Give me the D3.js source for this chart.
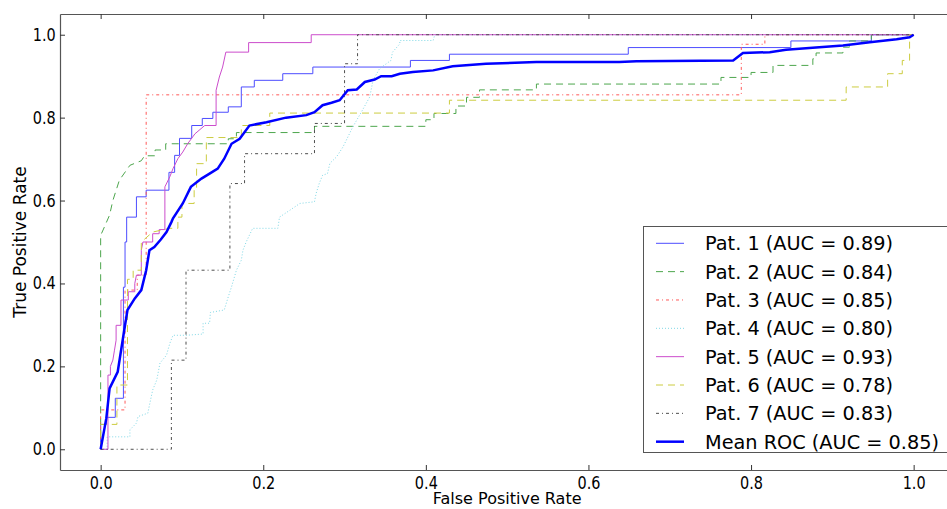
<!DOCTYPE html>
<html>
<head>
<meta charset="utf-8">
<script src="https://cdn.jsdelivr.net/npm/d3@7"></script>
<style>
  body { margin: 0; background: #fff; }
  svg { display: block; font-family: "DejaVu Sans", sans-serif; }
</style>
</head>
<body>
<div id="chart"></div>
<script>
// ROC curves per patient, [fpr, tpr]
var pat1 = [[0,0],[0,0.06],[0.007,0.06],[0.007,0.077],[0.018,0.077],[0.018,0.123],[0.028,0.123],[0.028,0.391],[0.030,0.391],[0.030,0.5],[0.032,0.5],[0.032,0.56],[0.044,0.56],[0.044,0.609],[0.056,0.609],[0.056,0.625],[0.084,0.625],[0.084,0.668],[0.091,0.668],[0.091,0.709],[0.097,0.709],[0.097,0.75],[0.112,0.75],[0.112,0.781],[0.125,0.781],[0.125,0.798],[0.138,0.798],[0.138,0.813],[0.157,0.813],[0.157,0.826],[0.173,0.826],[0.173,0.874],[0.189,0.874],[0.189,0.89],[0.224,0.89],[0.224,0.906],[0.261,0.906],[0.261,0.922],[0.381,0.922],[0.381,0.938],[0.429,0.938],[0.429,0.953],[0.649,0.953],[0.649,0.969],[0.849,0.969],[0.849,0.985],[0.948,0.985],[0.948,1],[1,1]]
var pat2 = [[0,0],[0,0.516],[0.003,0.529],[0.011,0.565],[0.015,0.6],[0.023,0.649],[0.036,0.685],[0.05,0.696],[0.054,0.708],[0.067,0.708],[0.067,0.722],[0.08,0.722],[0.08,0.737],[0.157,0.737],[0.157,0.749],[0.167,0.749],[0.167,0.764],[0.263,0.764],[0.263,0.779],[0.40,0.779],[0.40,0.795],[0.41,0.795],[0.41,0.81],[0.437,0.81],[0.437,0.828],[0.45,0.828],[0.45,0.849],[0.466,0.849],[0.466,0.867],[0.536,0.867],[0.536,0.881],[0.763,0.881],[0.763,0.897],[0.80,0.897],[0.80,0.909],[0.827,0.909],[0.827,0.926],[0.876,0.926],[0.876,0.942],[0.880,0.942],[0.880,0.956],[0.913,0.956],[0.913,0.970],[0.921,0.970],[0.921,0.985],[0.948,0.985],[0.948,1],[1,1]]
var pat3 = [[0,0],[0,0.095],[0.030,0.095],[0.030,0.384],[0.045,0.384],[0.045,0.42],[0.056,0.42],[0.056,0.855],[0.788,0.855],[0.788,0.977],[0.817,0.977],[0.817,1],[1,1]]
var pat4 = [[0,0],[0.008,0],[0.008,0.03],[0.036,0.03],[0.036,0.047],[0.044,0.063],[0.046,0.079],[0.058,0.087],[0.060,0.106],[0.064,0.143],[0.069,0.167],[0.073,0.208],[0.081,0.227],[0.085,0.255],[0.089,0.275],[0.105,0.275],[0.126,0.278],[0.126,0.304],[0.134,0.304],[0.135,0.33],[0.152,0.336],[0.157,0.368],[0.161,0.392],[0.167,0.432],[0.173,0.456],[0.175,0.48],[0.179,0.50],[0.187,0.533],[0.218,0.533],[0.220,0.56],[0.233,0.577],[0.245,0.593],[0.263,0.597],[0.265,0.617],[0.269,0.642],[0.273,0.661],[0.279,0.665],[0.282,0.69],[0.290,0.705],[0.298,0.729],[0.310,0.777],[0.322,0.818],[0.331,0.85],[0.335,0.89],[0.343,0.918],[0.357,0.938],[0.359,0.958],[0.368,0.978],[0.368,0.986],[0.409,0.986],[0.411,1],[1,1]]
var pat5 = [[0,0],[0.009,0],[0.009,0.179],[0.012,0.179],[0.012,0.2],[0.015,0.215],[0.017,0.239],[0.019,0.263],[0.019,0.299],[0.025,0.299],[0.025,0.36],[0.034,0.36],[0.034,0.38],[0.042,0.38],[0.042,0.40],[0.044,0.42],[0.050,0.42],[0.050,0.48],[0.052,0.50],[0.064,0.50],[0.064,0.52],[0.072,0.52],[0.072,0.53],[0.079,0.53],[0.079,0.633],[0.085,0.657],[0.089,0.677],[0.095,0.701],[0.101,0.717],[0.107,0.737],[0.116,0.761],[0.128,0.781],[0.142,0.781],[0.142,0.866],[0.146,0.898],[0.150,0.922],[0.154,0.958],[0.182,0.958],[0.182,0.981],[0.259,0.981],[0.259,1],[1,1]]
var pat6 = [[0,0],[0,0.06],[0.02,0.06],[0.02,0.155],[0.033,0.155],[0.033,0.41],[0.04,0.41],[0.04,0.432],[0.05,0.432],[0.05,0.50],[0.064,0.524],[0.085,0.533],[0.095,0.533],[0.095,0.56],[0.1,0.56],[0.1,0.593],[0.115,0.593],[0.115,0.629],[0.118,0.629],[0.118,0.689],[0.130,0.689],[0.130,0.752],[0.173,0.752],[0.173,0.781],[0.208,0.781],[0.208,0.811],[0.429,0.811],[0.429,0.842],[0.917,0.842],[0.917,0.874],[0.968,0.874],[0.968,0.906],[0.986,0.906],[0.986,0.938],[0.995,0.938],[0.995,1],[1,1]]
var pat7 = [[0,0],[0.087,0],[0.087,0.215],[0.105,0.215],[0.105,0.432],[0.159,0.432],[0.159,0.641],[0.177,0.641],[0.177,0.713],[0.263,0.713],[0.263,0.786],[0.300,0.786],[0.300,0.930],[0.316,0.930],[0.316,1],[1,1]]
var meanRoc = [[0,0],[0.007,0.075],[0.011,0.147],[0.021,0.187],[0.029,0.287],[0.033,0.336],[0.042,0.364],[0.050,0.384],[0.056,0.432],[0.060,0.48],[0.066,0.488],[0.074,0.506],[0.081,0.524],[0.087,0.548],[0.089,0.557],[0.101,0.593],[0.111,0.633],[0.124,0.653],[0.134,0.665],[0.144,0.677],[0.152,0.701],[0.161,0.737],[0.171,0.749],[0.183,0.781],[0.204,0.789],[0.228,0.80],[0.253,0.806],[0.263,0.813],[0.273,0.83],[0.284,0.836],[0.294,0.842],[0.304,0.866],[0.315,0.868],[0.325,0.886],[0.337,0.892],[0.345,0.90],[0.358,0.90],[0.368,0.906],[0.384,0.91],[0.409,0.914],[0.433,0.924],[0.474,0.93],[0.536,0.934],[0.638,0.934],[0.659,0.936],[0.778,0.938],[0.790,0.956],[0.823,0.958],[0.843,0.964],[0.884,0.97],[0.913,0.974],[0.946,0.982],[0.979,0.989],[0.995,0.994],[1,1]]

var labels = ["Pat. 1 (AUC = 0.89)","Pat. 2 (AUC = 0.84)","Pat. 3 (AUC = 0.85)","Pat. 4 (AUC = 0.80)","Pat. 5 (AUC = 0.93)","Pat. 6 (AUC = 0.78)","Pat. 7 (AUC = 0.83)","Mean ROC (AUC = 0.85)"]
var ticks = [0, 0.2, 0.4, 0.6, 0.8, 1.0]

var series = [
  {data: pat1, color: "#4d4dff", width: 1, dash: null},
  {data: pat2, color: "#4da64d", width: 1, dash: "7,5"},
  {data: pat3, color: "#ff5a5a", width: 1, dash: "3,3,1,3"},
  {data: pat4, color: "#80d8e6", width: 1, dash: "1,2"},
  {data: pat5, color: "#cc4dcc", width: 1, dash: null},
  {data: pat6, color: "#cccc40", width: 1, dash: "7,5"},
  {data: pat7, color: "#4d4d4d", width: 1, dash: "3,3,1,3"},
  {data: meanRoc, color: "#0000ff", width: 2.5, dash: null}
]

var width = 947, height = 509
var margin = {left: 60, top: 14, bottom: 39}
var plotH = height - margin.top - margin.bottom
var pxPerUnit = (914 - 101) / 1.0

var x = d3.scaleLinear().domain([-0.05, 1.05]).range([margin.left, margin.left + 1.1 * pxPerUnit])
var y = d3.scaleLinear().domain([-0.05, 1.05]).range([margin.top + plotH, margin.top])

var svg = d3.select("#chart").append("svg")
    .attr("width", width)
    .attr("height", height)

svg.append("defs").append("clipPath").attr("id", "clip")
  .append("rect")
    .attr("x", x(-0.05)).attr("y", y(1.05))
    .attr("width", x(1.05) - x(-0.05)).attr("height", y(-0.05) - y(1.05))

var line = d3.line().x(d => x(d[0])).y(d => y(d[1]))

var plot = svg.append("g").attr("clip-path", "url(#clip)")
series.forEach(function (s) {
  plot.append("path")
    .attr("d", line(s.data))
    .attr("fill", "none")
    .attr("stroke", s.color)
    .attr("stroke-width", s.width)
    .attr("stroke-dasharray", s.dash)
})

// axes, ticks pointing inward like matplotlib classic
var fmt = d3.format(".1f")
var xb = svg.append("g").attr("transform", `translate(0,${y(-0.05)})`)
  .call(d3.axisBottom(x).tickValues(ticks).tickSize(-5).tickSizeOuter(0).tickPadding(7).tickFormat(fmt))
var xt = svg.append("g").attr("transform", `translate(0,${y(1.05)})`)
  .call(d3.axisTop(x).tickValues(ticks).tickSize(-5).tickSizeOuter(0).tickFormat(""))
var yl = svg.append("g").attr("transform", `translate(${x(-0.05)},0)`)
  .call(d3.axisLeft(y).tickValues(ticks).tickSize(-5).tickSizeOuter(0).tickPadding(5).tickFormat(fmt))
var yr = svg.append("g").attr("transform", `translate(${x(1.05)},0)`)
  .call(d3.axisRight(y).tickValues(ticks).tickSize(-5).tickSizeOuter(0).tickFormat(""))

;[xb, xt, yl, yr].forEach(function (g) {
  g.selectAll(".domain").attr("stroke", "#555").attr("stroke-width", 1.2)
  g.selectAll(".tick line").attr("stroke", "#333")
  // reference glyphs are a bit narrow and tall
  g.selectAll("text").attr("font-size", 17).attr("fill", "#000")
    .attr("font-family", "DejaVu Sans, sans-serif")
    .attr("transform", "scale(0.85,1)")
})

svg.append("text")
  .attr("x", x(0.5)).attr("y", 504)
  .attr("text-anchor", "middle")
  .attr("font-size", 16)
  .text("False Positive Rate")

svg.append("text")
  .attr("transform", `translate(26,${y(0.5)}) rotate(-90)`)
  .attr("text-anchor", "middle")
  .attr("font-size", 17)
  .text("True Positive Rate")

// legend
var lg = svg.append("g")
lg.append("rect")
  .attr("x", 643.5).attr("y", 226.5)
  .attr("width", 320).attr("height", 226)
  .attr("fill", "#fff").attr("stroke", "#555").attr("stroke-width", 1)

series.forEach(function (s, i) {
  var cy = 243.3 + i * 28.34
  lg.append("line")
    .attr("x1", 656).attr("x2", 684)
    .attr("y1", cy).attr("y2", cy)
    .attr("stroke", s.color)
    .attr("stroke-width", s.width)
    .attr("stroke-dasharray", s.dash)
  lg.append("text")
    .attr("x", 705).attr("y", cy)
    .attr("dy", "0.36em")
    .attr("font-size", 19.3)
    .text(labels[i])
})
</script>
</body>
</html>
